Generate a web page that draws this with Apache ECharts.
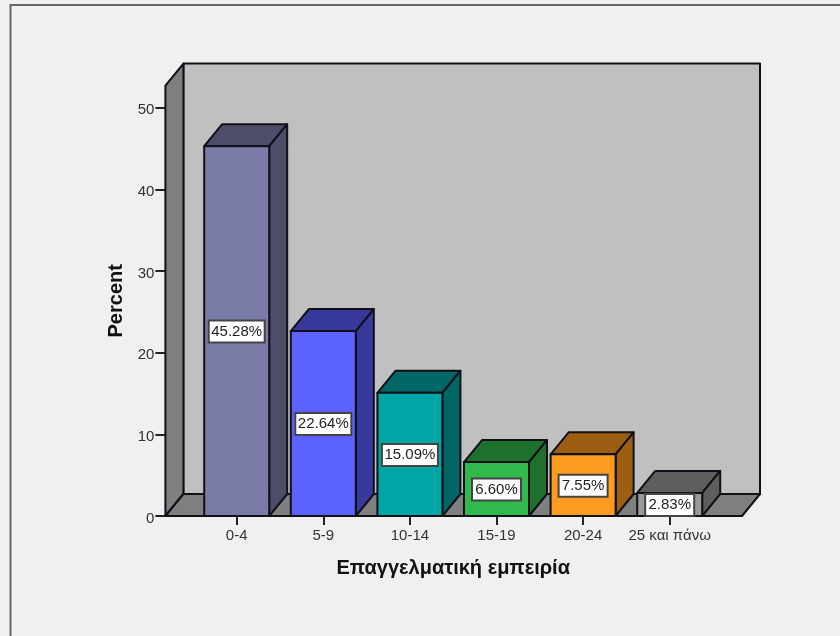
<!DOCTYPE html>
<html>
<head>
<meta charset="utf-8">
<style>
  html, body { margin: 0; padding: 0; background: #f0f0f0; }
  #chart { width: 840px; height: 636px; }
</style>
<script src="https://cdn.jsdelivr.net/npm/echarts@6/dist/echarts.min.js"></script>
</head>
<body>
<div id="chart"></div>
<script>
const categories = ['0-4', '5-9', '10-14', '15-19', '20-24', '25 και πάνω'];
const percentValues = [45.28, 22.64, 15.09, 6.60, 7.55, 2.83];
const frontColors = ['#7b7ba8', '#5c62ff', '#00a5a5', '#30b94c', '#ff9b1e', '#999999'];
const shadeColors = ['#4d4d69', '#38399c', '#006666', '#1f6f2d', '#9b5e12', '#5e5e5e'];
const yTicks = [0, 10, 20, 30, 40, 50];

const FONT = '"Liberation Sans", Arial, sans-serif';
const DX = 18, DY = 22;          // oblique depth of the 3D box
const BAR_W = 65;
const OUTLINE = '#101018';
const AXIS_OFFSET = 28;

const chart = echarts.init(document.getElementById('chart'));

function poly(points, fill) {
  return {
    type: 'polygon',
    shape: { points: points },
    style: { fill: fill, stroke: OUTLINE, lineWidth: 2, lineJoin: 'round' }
  };
}

// Back wall, side wall and floor of the chart box.
function renderRoom(params) {
  const cs = params.coordSys;
  const L = cs.x - AXIS_OFFSET, R = cs.x + cs.width + 29;
  const T = cs.y, B = cs.y + cs.height;
  return {
    type: 'group',
    children: [
      poly([[L + DX, T - DY], [R + DX, T - DY], [R + DX, B - DY], [L + DX, B - DY]], '#c0c0c0'),
      poly([[L, T], [L + DX, T - DY], [L + DX, B - DY], [L, B]], '#7f7f7f'),
      poly([[L, B], [L + DX, B - DY], [R + DX, B - DY], [R, B]], '#7f7f7f')
    ]
  };
}

// One 3D column with its boxed percentage label.
function renderBar(params, api) {
  const i = api.value(0);
  const v = api.value(1);
  const top = api.coord([i, v]);
  const base = api.coord([i, 0]);
  const l = top[0] - BAR_W / 2, r = top[0] + BAR_W / 2;
  const label = v.toFixed(2) + '%';
  const boxW = label.length > 5 ? 56 : 49;
  const midY = (top[1] + base[1]) / 2 + 0.5;
  return {
    type: 'group',
    children: [
      poly([[l, top[1]], [l + DX, top[1] - DY], [r + DX, top[1] - DY], [r, top[1]]], shadeColors[i]),
      poly([[r, top[1]], [r + DX, top[1] - DY], [r + DX, base[1] - DY], [r, base[1]]], shadeColors[i]),
      poly([[l, top[1]], [r, top[1]], [r, base[1]], [l, base[1]]], frontColors[i]),
      {
        type: 'rect',
        shape: { x: top[0] - boxW / 2, y: midY - 11, width: boxW, height: 22 },
        style: { fill: '#ffffff', stroke: '#444444', lineWidth: 2 }
      },
      {
        type: 'text',
        style: {
          x: top[0], y: midY, text: label, align: 'center', verticalAlign: 'middle',
          fill: '#222222', font: '15px ' + FONT
        }
      }
    ]
  };
}

chart.setOption({
  animation: false,
  backgroundColor: '#f0f0f0',
  graphic: [{
    type: 'rect',
    shape: { x: 10.5, y: 5, width: 840, height: 640 },
    style: { fill: 'none', stroke: '#666666', lineWidth: 2 },
    silent: true
  }],
  grid: { left: 193.4, top: 85.6, width: 519.6, height: 430.4 },
  xAxis: {
    type: 'category',
    data: categories,
    name: 'Επαγγελματική εμπειρία',
    nameLocation: 'middle',
    nameGap: 42,
    nameTextStyle: { fontFamily: FONT, fontSize: 20, fontWeight: 'bold', color: '#111111' },
    axisLine: { show: false },
    axisTick: { show: true, alignWithLabel: true, length: 9, lineStyle: { color: '#222222', width: 2 } },
    axisLabel: { fontFamily: FONT, fontSize: 15, color: '#333333', margin: 12, interval: 0 }
  },
  yAxis: {
    type: 'value',
    min: 0,
    max: 52.7,
    offset: AXIS_OFFSET,
    name: 'Percent',
    nameLocation: 'middle',
    nameGap: 36,
    nameTextStyle: { fontFamily: FONT, fontSize: 20, fontWeight: 'bold', color: '#111111' },
    splitLine: { show: false },
    axisLine: { show: true, lineStyle: { color: OUTLINE, width: 2 } },
    axisTick: { show: true, length: 10, customValues: yTicks, lineStyle: { color: '#222222', width: 2 } },
    axisLabel: {
      margin: 11,
      customValues: yTicks,
      formatter: '{tick|{value}}',
      rich: { tick: { fontFamily: FONT, fontSize: 15, color: '#333333', padding: [5, 0, 0, 0] } }
    }
  },
  series: [
    {
      type: 'custom',
      coordinateSystem: 'cartesian2d',
      clip: false,
      z: 1,
      silent: true,
      data: [[0, 0]],
      renderItem: renderRoom
    },
    {
      type: 'custom',
      coordinateSystem: 'cartesian2d',
      clip: false,
      z: 3,
      silent: true,
      encode: { x: 0, y: 1 },
      data: percentValues.map((v, i) => [i, v]),
      renderItem: renderBar
    }
  ]
});
</script>
</body>
</html>
